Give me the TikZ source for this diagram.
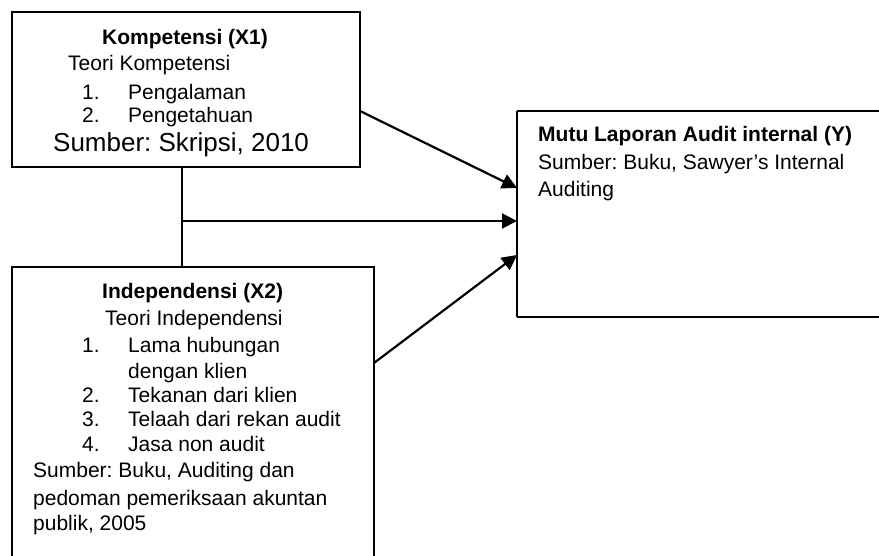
\documentclass[tikz,border=0pt]{standalone}
\usepackage{fontspec}
\setmainfont{Liberation Sans}
\usetikzlibrary{arrows.meta}
\frenchspacing
\begin{document}
\begin{tikzpicture}[x=1pt,y=-1pt,
 box/.style={draw, line width=2.6pt, outer sep=0pt, inner sep=0pt, anchor=north west},
 openbox/.style={outer sep=0pt, inner sep=0pt, anchor=north west},
 boxline/.style={line width=2.6pt},
 txt/.style={anchor=base west, inner sep=0pt, font=\fontsize{21}{25}\selectfont},
 bold/.style={anchor=base west, inner sep=0pt, font=\fontsize{21}{25}\selectfont\bfseries},
 big/.style={anchor=base west, inner sep=0pt, font=\fontsize{26}{30}\selectfont},
 link/.style={line width=2.2pt},
 arr/.style={link, -{Triangle[length=15pt,width=15pt]}}]
\fill[white] (0,0) rectangle (879,556);
\useasboundingbox (0,0) rectangle (879,556);
\clip (0,0) rectangle (879,556);
% boxes
\node[box, minimum width=348pt, minimum height=155pt] (x1) at (12,12) {};
\node[openbox, minimum width=362pt, minimum height=290pt] (x2) at (12,267) {};
\draw[boxline] (x2.south west) -- (x2.north west) -- (x2.north east) -- (x2.south east);
\node[openbox, minimum width=362pt, minimum height=206pt] (y) at (517,111) {};
\coordinate (yne) at (960,111);
\coordinate (yse) at (960,317);
\draw[boxline] (y.north west) -- (yne);
\draw[boxline] (y.south west) -- (yse);
\draw[boxline] (y.north west) -- (y.south west);
% X1 text
\node[bold] (x1t) at (102,45) {Kompetensi (X1)};
\node[txt] (x1a) at (68,71) {Teori Kompetensi};
\node[txt] (x1n1) at (82,99.5) {1.};
\node[txt] (x1i1) at (128,99.5) {Pengalaman};
\node[txt] (x1n2) at (82,122.7) {2.};
\node[txt] (x1i2) at (128,122.7) {Pengetahuan};
\node[big] (x1s) at (53,151.7) {Sumber: Skripsi, 2010};
% X2 text
\node[bold] (x2t) at (102,298.3) {Independensi (X2)};
\node[txt] (x2a) at (105,326) {Teori Independensi};
\node[txt] (x2n1) at (82,352.7) {1.};
\node[txt] (x2i1) at (128,352.7) {Lama hubungan};
\node[txt] (x2i1b) at (128,378) {dengan klien};
\node[txt] (x2n2) at (82,402.7) {2.};
\node[txt] (x2i2) at (128,402.7) {Tekanan dari klien};
\node[txt] (x2n3) at (82,426.7) {3.};
\node[txt] (x2i3) at (128,426.7) {Telaah dari rekan audit};
\node[txt] (x2n4) at (82,451.7) {4.};
\node[txt] (x2i4) at (128,451.7) {Jasa non audit};
\node[txt] (x2s1) at (33,477.7) {Sumber: Buku, Auditing dan};
\node[txt] (x2s2) at (33,505) {pedoman pemeriksaan akuntan};
\node[txt] (x2s3) at (33,530) {publik, 2005};
% Y text
\node[bold] (yt) at (538,141.7) {Mutu Laporan Audit internal (Y)};
\node[txt] (ys1) at (538,169.3) {Sumber: Buku, Sawyer’s Internal};
\node[txt] (ys2) at (538,196.7) {Auditing};
% connector points
\coordinate (a1s) at (x1.east |- y.north);
\coordinate (a1e) at (517,188);
\coordinate (vtop) at (182,167);
\coordinate (vbot) at (182,267);
\coordinate (hs) at (182,221);
\coordinate (he) at (517,221);
\coordinate (a3s) at (374,363);
\coordinate (a3e) at (517,255);
% connectors
\draw[arr] (a1s) -- (a1e);
\draw[link] (vtop) -- (vbot);
\draw[arr] (hs) -- (he);
\draw[arr] (a3s) -- (a3e);
\end{tikzpicture}
\end{document}
